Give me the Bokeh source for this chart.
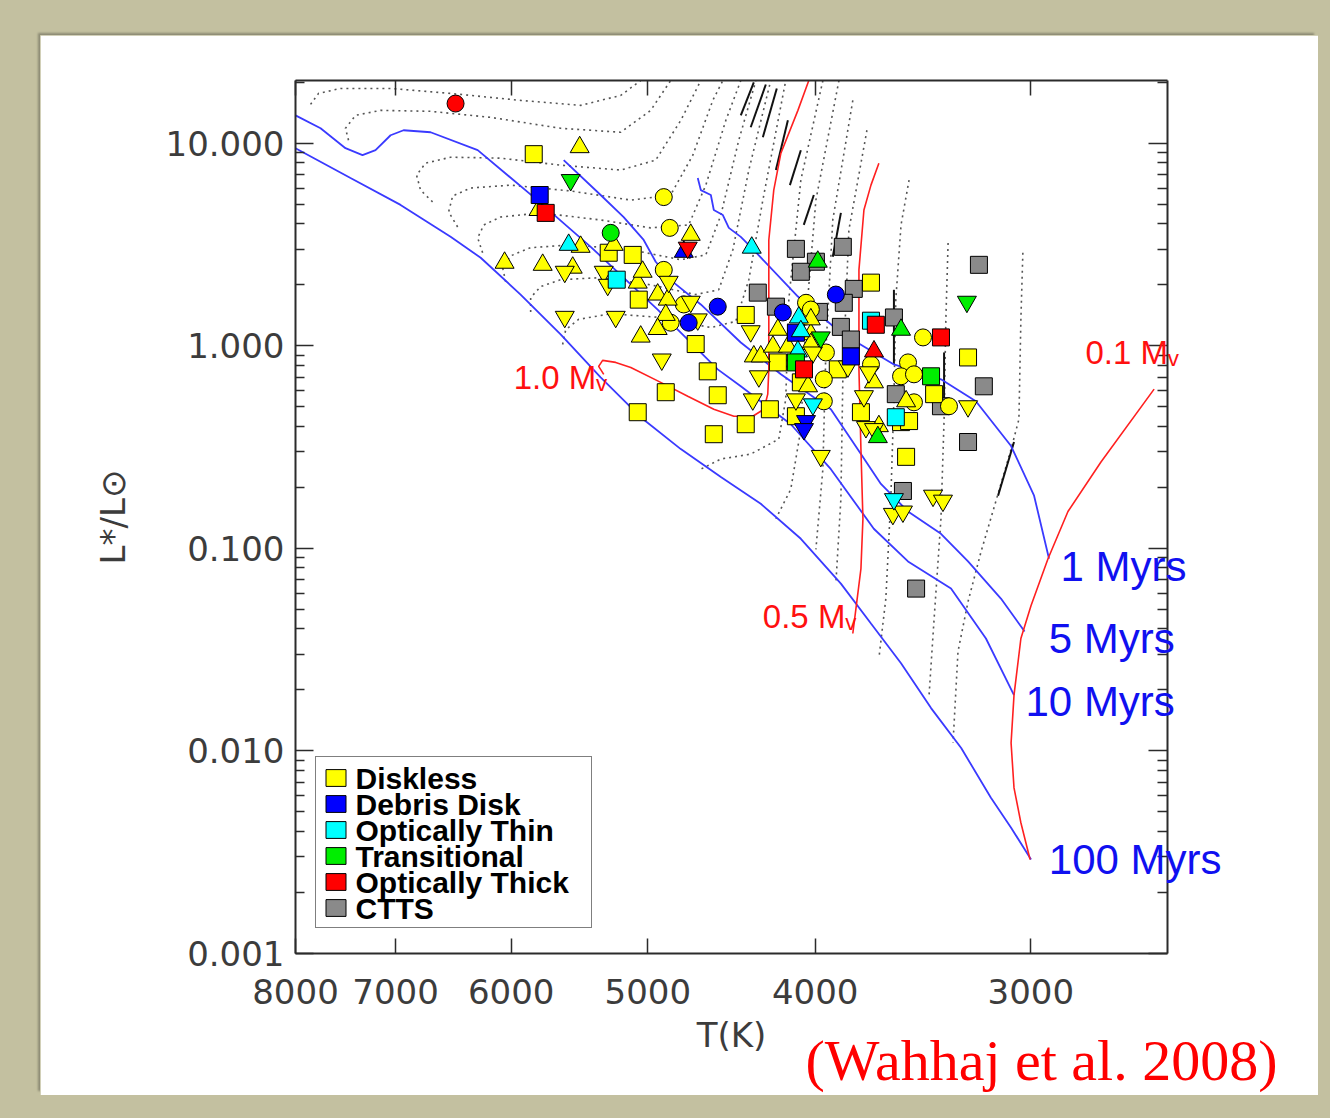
import math
from bokeh.plotting import figure
from bokeh.models import (Range1d, FixedTicker, CustomJSTickFormatter, LogAxis, Title,
                          Label, Legend, LegendItem, ColumnDataSource, Spacer)
from bokeh.layouts import column, row
from bokeh.embed import file_html
from bokeh.resources import INLINE

# ---------------- stars: effective temperature (K) and luminosity (Lsun) ----------------
diskless_T = [5822, 5268, 5102, 5061, 4691, 4388, 4616, 4555, 4882, 5068, 4579, 4388, 4249, 4204, 3881,
              4104, 3713, 3413, 3262, 3763, 3567, 3529, 3543, 4077,
              4895, 4856, 4895, 4766, 4850, 4049, 4023, 3943, 3954, 3954, 3464, 3534, 3567, 3506, 3506,
              3346, 3713,
              5476, 5785, 4722, 5469, 5233, 6053, 5753, 5527, 5068, 5035, 4935, 4869, 4882, 4935, 5048,
              4341, 4301, 4204, 4232, 4148, 4023, 4023, 4038, 4023, 3674, 3543, 3698,
              5586, 5303, 5275, 4863, 4722, 4678, 5586, 5219, 4908, 4359, 4312, 4347, 4104, 3970, 4012,
              3829, 3748, 3738, 3698, 3723, 3262, 3606, 3558, 3418, 3373]
diskless_L = [8.83, 2.88, 2.81, 1.69, 1.02, 1.42, 0.748, 0.570, 0.590, 0.470, 0.366, 0.410, 0.486, 0.828, 0.765,
              0.449, 2.05, 0.577, 0.876, 0.470, 0.420, 0.425, 0.283, 0.660,
              5.42, 3.82, 2.37, 1.60, 1.30, 1.63, 1.51, 0.927, 0.683, 0.532, 1.10, 0.828, 0.707, 0.723, 0.526,
              0.503, 0.809,
              9.56, 4.68, 3.53, 3.08, 3.15, 2.57, 2.51, 2.43, 2.05, 2.32, 1.79, 1.69, 1.42, 1.21, 1.11,
              0.886, 0.886, 1.20, 0.99, 0.99, 1.14, 1.02, 0.631, 1.35, 0.401, 0.532, 0.660,
              2.32, 2.32, 2.00, 2.07, 1.65, 1.35, 1.39, 1.39, 0.856, 1.18, 0.707, 0.544, 0.544, 0.286, 0.927,
              0.791, 0.564, 0.397, 0.388, 0.740, 0.503, 0.148, 0.152, 0.182, 0.172]
diskless_shape = ["square"] * 24 + ["circle"] * 17 + ["triangle"] * 27 + ["inverted_triangle"] * 25

debris_T = [5776, 4104, 3814, 4555, 4735, 4176, 3891, 4766, 4049, 4060]
debris_L = [5.55, 1.16, 0.886, 1.56, 1.30, 1.46, 1.79, 2.91, 0.425, 0.388]
debris_shape = ["square"] * 3 + ["circle"] * 4 + ["triangle"] + ["inverted_triangle"] * 2

thin_T = [5212, 3592, 3713, 5557, 4353, 4088, 4077, 4093, 4012, 3601]
thin_L = [2.12, 0.444, 1.33, 3.15, 3.05, 1.38, 1.18, 0.938, 0.514, 0.175]
thin_shape = ["square"] * 3 + ["triangle"] * 5 + ["inverted_triangle"] * 2

trans_T = [4104, 3427, 5254, 3986, 3567, 3679, 5542, 3970, 3267]
trans_L = [0.828, 0.707, 3.61, 2.60, 1.20, 0.354, 6.58, 1.10, 1.65]
trans_shape = ["square"] * 2 + ["circle"] + ["triangle"] * 3 + ["inverted_triangle"] * 3

thick_T = [5730, 3689, 3382, 4060, 6462, 3698, 4741]
thick_L = [4.53, 1.27, 1.10, 0.765, 15.7, 0.938, 3.05]
thick_shape = ["square"] * 4 + ["circle"] + ["triangle"] + ["inverted_triangle"]

ctts_T = [4104, 3855, 3996, 4077, 4318, 3799, 4215, 3850, 3980, 3865, 3814, 3601, 3215, 3194, 3592,
          3382, 3262, 3558, 3496]
ctts_L = [3.01, 3.08, 2.60, 2.32, 1.83, 1.91, 1.56, 1.63, 1.47, 1.24, 1.074, 1.38, 2.51, 0.631, 0.577,
          0.503, 0.335, 0.192, 0.0633]
ctts_shape = ["square"] * 19

# ---------------- isochrones ----------------
iso1_T = [4678, 4659, 4597, 4579, 4524, 4488, 4417, 4359, 4093, 3865, 3601, 3382, 3228, 3080, 2987, 2928]
iso1_L = [6.73, 5.87, 5.55, 4.68, 4.42, 3.82, 3.45, 3.08, 1.75, 1.16, 0.809, 0.683, 0.532, 0.320, 0.182, 0.0888]
iso5_T = [5594, 5325, 5164, 5028, 4948, 4830, 4659, 4417, 4187, 3917, 3763, 3664, 3534, 3382, 3262, 3122, 3025]
iso5_L = [8.25, 5.55, 4.32, 3.33, 2.60, 2.05, 1.60, 1.038, 0.723, 0.486, 0.292, 0.208, 0.152, 0.118, 0.0862,
          0.0565, 0.0389]
iso10_T = [8000, 7737, 7484, 7316, 7190, 7047, 6926, 6681, 6274, 5822, 5396, 4935, 4555, 4417, 4132, 3917,
           3699, 3534, 3337, 3185, 3068]
iso10_L = [13.73, 11.85, 9.45, 8.73, 9.24, 10.95, 11.59, 11.33, 9.24, 5.42, 3.08, 1.51, 0.765, 0.631, 0.410,
           0.246, 0.125, 0.0862, 0.0633, 0.0359, 0.01885]
iso100_T = [8000, 7434, 6954, 6505, 6249, 5925, 5617, 5325, 5048, 4785, 4536, 4301, 4077, 3865, 3713, 3567,
            3427, 3292, 3164, 3080, 2999]
iso100_L = [9.45, 6.73, 4.96, 3.45, 2.72, 1.79, 1.14, 0.699, 0.444, 0.309, 0.225, 0.166, 0.1115, 0.0670,
            0.0426, 0.0271, 0.01627, 0.01034, 0.00587, 0.00418, 0.00291]

# ---------------- labelled mass tracks ----------------
m10_T = [5303, 5339, 5311, 5219, 5115, 4915, 4741, 4579, 4458, 4347, 4283, 4261, 4255, 4255, 4255, 4227,
         4187, 4093, 4034]
m10_L = [0.723, 0.791, 0.847, 0.828, 0.782, 0.660, 0.564, 0.486, 0.449, 0.449, 0.486, 0.577, 0.765, 1.69,
         3.33, 5.87, 8.93, 14.53, 20.4]
m05_T = [3674, 3713, 3748, 3773, 3773, 3763, 3753, 3763, 3788, 3804]
m05_L = [7.97, 6.21, 4.68, 2.37, 0.765, 0.309, 0.140, 0.0793, 0.0505, 0.0380]
m01_T = [2545, 2732, 2855, 2932, 2999, 3040, 3068, 3080, 3068, 3040, 3003]
m01_L = [0.611, 0.267, 0.152, 0.0888, 0.0522, 0.0359, 0.01885, 0.01094, 0.00657, 0.00442, 0.00291]

# ---------------- other evolutionary tracks (dotted) ----------------
trk_a_T = [7841, 7758, 7534, 7047, 6505, 5925, 5469, 5184, 5048]
trk_a_L = [15.55, 17.62, 18.64, 18.64, 17.62, 16.27, 15.38, 17.22, 20.4]
trk_b_T = [7454, 7484, 7384, 7142, 6681, 6167, 5617, 5184, 4981, 4850]
trk_b_L = [10.35, 11.85, 13.73, 14.53, 14.37, 13.42, 11.85, 11.33, 14.53, 20.4]
trk_c_T = [6663, 6771, 6807, 6726, 6505, 6085, 5617, 5184, 4948, 4785, 4659]
trk_c_L = [5.13, 5.87, 6.96, 7.97, 8.53, 8.44, 7.79, 7.37, 8.25, 12.97, 20.4]
trk_d_T = [6444, 6522, 6487, 6333, 6004, 5542, 5115, 4850, 4709, 4585, 4524]
trk_d_L = [3.86, 4.58, 5.49, 6.01, 6.21, 5.81, 5.24, 5.55, 8.73, 16.27, 20.4]
trk_e_T = [6233, 6274, 6223, 6085, 5769, 5325, 4981, 4735, 4628, 4506, 4417]
trk_e_L = [2.88, 3.41, 3.95, 4.32, 4.53, 4.18, 3.82, 3.95, 6.21, 12.97, 20.4]
trk_f_T = [6044, 6069, 6004, 5846, 5542, 5115, 4785, 4628, 4536, 4429, 4329]
trk_f_L = [2.07, 2.43, 2.78, 3.05, 3.15, 2.98, 2.66, 2.81, 4.42, 10.35, 20.4]
trk_g_T = [5846, 5846, 5769, 5617, 5325, 4981, 4691, 4549, 4464, 4370, 4244]
trk_g_L = [1.47, 1.73, 1.96, 2.12, 2.17, 2.00, 1.79, 1.89, 2.98, 7.37, 20.4]
trk_h_T = [5602, 5579, 5484, 5254, 4915, 4597, 4447, 4370, 4289, 4160]
trk_h_L = [1.015, 1.20, 1.35, 1.44, 1.38, 1.23, 1.32, 2.12, 5.24, 20.4]
trk_i_T = [3959, 4077, 4143, 4160, 4199, 4359, 4536, 4659]
trk_i_L = [20.4, 6.58, 1.69, 0.544, 0.346, 0.292, 0.276, 0.246]
trk_j_T = [3875, 3996, 4049, 4077, 4132, 4215]
trk_j_L = [20.4, 5.24, 1.35, 0.388, 0.196, 0.140]
trk_k_T = [3804, 3907, 3943, 3959, 3996]
trk_k_L = [16.27, 4.18, 0.959, 0.246, 0.0989]
trk_l_T = [3733, 3824, 3855, 3865, 3891]
trk_l_L = [11.59, 3.73, 0.683, 0.175, 0.0670]
trk_m_T = [3529, 3567, 3592, 3601, 3616, 3640, 3674]
trk_m_L = [6.58, 3.95, 1.69, 0.544, 0.175, 0.0565, 0.0286]
trk_n_T = [3350, 3360, 3368, 3382, 3413, 3437]
trk_n_L = [3.22, 1.35, 0.434, 0.140, 0.0450, 0.0182]
trk_o_T = [3032, 3040, 3048, 3080, 3134, 3206, 3262, 3306, 3328]
trk_o_L = [2.88, 1.35, 0.434, 0.309, 0.186, 0.0962, 0.0546, 0.0310, 0.01094]

# slow-evolution stretches along the tracks (segment ends)
slow_T0 = [4341, 4272, 4210, 4148, 4077, 4007, 3865, 3601, 3368, 3068]
slow_L0 = [19.96, 19.5, 18.64, 12.97, 9.24, 5.55, 4.53, 1.89, 0.927, 0.335]
slow_T1 = [4417, 4359, 4289, 4215, 4137, 4061, 3907, 3601, 3368, 3134]
slow_L1 = [13.73, 11.99, 10.70, 7.37, 6.21, 3.95, 2.75, 0.809, 0.470, 0.182]

# isochrone names and the luminosity at which each name sits
age_names = ["\u00a0\u00a0\u00a01 Myrs", "\u00a0\u00a05 Myrs", "10 Myrs", "\u00a0\u00a0100 Myrs"]
age_L = [0.0812, 0.0359, 0.01761, 0.00291]
low_mass_name = ["0.1 M\u1d65"]
low_mass_L = [0.927]

x_ticks = [8000, 7000, 6000, 5000, 4000, 3000]
y_ticks = [0.001, 0.01, 0.1, 1, 10]
y_minor = [m * d for d in (0.001, 0.01, 0.1, 1, 10) for m in range(2, 10)]

X_RANGE = (8000, 2500)
Y_RANGE = (0.001, 20.4)
FRAME_W, FRAME_H = 872, 873

KHAKI = "#c3c0a0"
AXIS = "#2b2b2b"
TICKFONT = "DejaVu Sans"

fig = figure(width=1278, height=1060, x_axis_type="log", y_axis_type="log",
             x_range=Range1d(*X_RANGE), y_range=Range1d(*Y_RANGE),
             output_backend="svg", toolbar_location=None,
             min_border_left=255, min_border_right=151, min_border_top=45, min_border_bottom=142,
             background_fill_color="white", border_fill_color="white")
fig.grid.visible = False
fig.outline_line_color = None


def frame_point(px, py):
    """Data coordinates of a point given in pixels from the frame's top-left corner."""
    lx0, lx1 = math.log10(X_RANGE[0]), math.log10(X_RANGE[1])
    ly0, ly1 = math.log10(Y_RANGE[0]), math.log10(Y_RANGE[1])
    return 10 ** (lx0 + (lx1 - lx0) * px / FRAME_W), 10 ** (ly1 - (ly1 - ly0) * py / FRAME_H)


def style_axis(ax, tick_in, minor_in):
    ax.axis_line_color = AXIS
    ax.axis_line_width = 2
    ax.major_tick_in = tick_in
    ax.major_tick_out = 0
    ax.minor_tick_in = minor_in
    ax.minor_tick_out = 0
    ax.major_tick_line_color = AXIS
    ax.major_tick_line_width = 1.5
    ax.minor_tick_line_color = AXIS
    ax.minor_tick_line_width = 1.5
    ax.major_label_text_font = TICKFONT
    ax.major_label_text_font_size = "34px"
    ax.major_label_text_color = "#3c3c3c"
    ax.axis_label_text_font = TICKFONT
    ax.axis_label_text_font_size = "34px"
    ax.axis_label_text_font_style = "normal"
    ax.axis_label_text_color = "#3c3c3c"


xb = fig.xaxis[0]
xb.ticker = FixedTicker(ticks=x_ticks, minor_ticks=[])
xb.formatter = CustomJSTickFormatter(code="return tick.toFixed(0);")
style_axis(xb, 15, 0)
xb.major_label_standoff = 25
xb.axis_label = "T(K)"
xb.axis_label_standoff = 8

yl = fig.yaxis[0]
yl.ticker = FixedTicker(ticks=y_ticks, minor_ticks=y_minor)
yl.formatter = CustomJSTickFormatter(code="return tick.toFixed(3);")
style_axis(yl, 18, 9)
yl.major_label_standoff = 11
yl.axis_label = "L*/L⊙"
yl.axis_label_standoff = 30

xt = LogAxis(ticker=FixedTicker(ticks=x_ticks, minor_ticks=[]),
             formatter=CustomJSTickFormatter(code="return '';"))
style_axis(xt, 15, 0)
xt.major_label_standoff = 0
fig.add_layout(xt, "above")

yr = LogAxis(ticker=FixedTicker(ticks=y_ticks, minor_ticks=y_minor),
             formatter=CustomJSTickFormatter(code="return '';"))
style_axis(yr, 19, 10)
yr.major_label_standoff = 0
fig.add_layout(yr, "right")

NAME_CODE = """
const i = vals.findIndex(v => Math.abs(Math.log10(v) - Math.log10(tick)) < 1e-6);
return i >= 0 ? names[i] : "";
"""


def name_axis(vals, names, color, size, standoff):
    ax = LogAxis(ticker=FixedTicker(ticks=vals, minor_ticks=[]),
                 formatter=CustomJSTickFormatter(args=dict(vals=vals, names=names), code=NAME_CODE))
    ax.axis_line_color = None
    ax.major_tick_line_color = None
    ax.minor_tick_line_color = None
    ax.major_tick_in = 0
    ax.major_tick_out = 0
    ax.major_label_standoff = standoff
    ax.major_label_text_font = "Liberation Sans"
    ax.major_label_text_font_size = size
    ax.major_label_text_color = color
    fig.add_layout(ax, "right")
    return ax


# isochrone and low-mass track names written at the curve ends (across the frame edge)
name_axis(age_L, age_names, "#1010f0", "42px", -142)
name_axis(low_mass_L, low_mass_name, "#ff1010", "33px", -139)

# dotted evolutionary tracks
tracks_x = [trk_a_T, trk_b_T, trk_c_T, trk_d_T, trk_e_T, trk_f_T, trk_g_T, trk_h_T,
            trk_i_T, trk_j_T, trk_k_T, trk_l_T, trk_m_T, trk_n_T, trk_o_T]
tracks_y = [trk_a_L, trk_b_L, trk_c_L, trk_d_L, trk_e_L, trk_f_L, trk_g_L, trk_h_L,
            trk_i_L, trk_j_L, trk_k_L, trk_l_L, trk_m_L, trk_n_L, trk_o_L]
fig.multi_line(xs=tracks_x, ys=tracks_y, line_color="#555555", line_width=1.6, line_dash="2 4")
fig.segment(x0=slow_T0, y0=slow_L0, x1=slow_T1, y1=slow_L1, line_color="#111111", line_width=2)

# isochrones
for xs, ys in [(iso1_T, iso1_L), (iso5_T, iso5_L), (iso10_T, iso10_L), (iso100_T, iso100_L)]:
    fig.line(xs, ys, line_color="#3a3aff", line_width=1.8)

# mass tracks
for xs, ys in [(m10_T, m10_L), (m05_T, m05_L), (m01_T, m01_L)]:
    fig.line(xs, ys, line_color="#ff2020", line_width=1.6)

SIZES = {"square": 17, "circle": 17, "triangle": 19, "inverted_triangle": 19}
groups = [
    ("CTTS", "#8a8a8a", ctts_T, ctts_L, ctts_shape),
    ("Diskless", "#ffff00", diskless_T, diskless_L, diskless_shape),
    ("Debris Disk", "#0000ff", debris_T, debris_L, debris_shape),
    ("Optically Thin", "#00ffff", thin_T, thin_L, thin_shape),
    ("Transitional", "#00ee00", trans_T, trans_L, trans_shape),
    ("Optically Thick", "#ff0000", thick_T, thick_L, thick_shape),
]
for name, color, ts, ls, shapes in groups:
    src = ColumnDataSource(dict(T=ts, L=ls, shape=shapes, size=[SIZES[s] for s in shapes]))
    fig.scatter("T", "L", marker={"field": "shape"}, size="size", source=src,
                fill_color=color, line_color="black", line_width=1)

# legend: box and swatches from a Legend, names written on top in tight rows
nan = float("nan")
legend_order = ["Diskless", "Debris Disk", "Optically Thin", "Transitional", "Optically Thick", "CTTS"]
colors = {g[0]: g[1] for g in groups}
items = []
for name in legend_order:
    r = fig.quad(left=[nan], right=[nan], top=[nan], bottom=[nan], fill_color=colors[name],
                 line_color="black", line_width=1)
    items.append(LegendItem(label=" ", renderers=[r]))
LEG_X, LEG_Y, LEG_PAD, ROW_H, GLYPH_W = 20, 25, 7, 26, 25
legend = Legend(items=items, location=(LEG_X, LEG_Y), margin=0, padding=LEG_PAD, spacing=0,
                glyph_width=GLYPH_W, glyph_height=21, label_standoff=6, label_height=ROW_H,
                label_width=230, label_text_font_size="1px",
                border_line_color="black", border_line_width=1.5,
                background_fill_color="white", background_fill_alpha=0)
fig.add_layout(legend)

leg_top = FRAME_H - LEG_Y - (2 * LEG_PAD + ROW_H * len(legend_order))
for i, name in enumerate(legend_order):
    lx, ly = frame_point(LEG_X + LEG_PAD + GLYPH_W + 8, leg_top + LEG_PAD + ROW_H * (i + 0.5))
    fig.add_layout(Label(x=lx, y=ly, text=name, text_font="Liberation Sans", text_font_size="30px",
                         text_font_style="bold", text_color="black", text_baseline="middle",
                         text_align="left", level="overlay"))

# mass-track labels inside the frame
for txt, x, y in [("1.0 M\u1d65", 5980, 0.699), ("0.5 M\u1d65", 4289, 0.0461)]:
    fig.add_layout(Label(x=x, y=y, text=txt, text_font="Liberation Sans", text_font_size="33px",
                         text_color="#ff1010", text_baseline="middle", text_align="left"))

cite = Title(text="(Wahhaj et al. 2008)", align="left", offset=510, standoff=-64,
             vertical_align="bottom", text_font="Liberation Serif", text_font_size="58px",
             text_font_style="normal", text_color="#ff0000")
fig.add_layout(cite, "below")

fig.styles = {"box-shadow": "-3px -3px 2px -1px #8d8b74"}

p = column(
    Spacer(width=1330, height=35),
    row(Spacer(width=40, height=1060), fig, Spacer(width=12, height=1060)),
    Spacer(width=1330, height=23),
    styles={"background-color": KHAKI},
)

open("out.html", "w").write(file_html(p, INLINE))
